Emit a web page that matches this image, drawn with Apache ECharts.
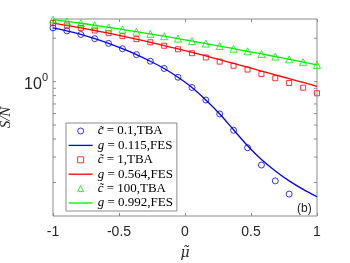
<!DOCTYPE html>
<html>
<head>
<meta charset="utf-8">
<script src="https://cdn.jsdelivr.net/npm/echarts@6/dist/echarts.min.js"></script>
<style>html,body{margin:0;padding:0;background:#fff}#c{width:350px;height:263px}</style>
</head>
<body>
<div id="c"></div>
<script>
// x grid (mu tilde)
const xs = [-1, -0.895, -0.789, -0.684, -0.579, -0.474, -0.368, -0.263, -0.158, -0.053,
            0.053, 0.158, 0.263, 0.368, 0.474, 0.579, 0.684, 0.789, 0.895, 1];
// c~ = 0.1, TBA (blue circles)
const blueTBA = [2.360, 2.249, 2.124, 1.986, 1.842, 1.692, 1.540, 1.386, 1.235, 1.073,
                 0.911, 0.746, 0.597, 0.460, 0.348, 0.264, 0.205, 0.166];
// g = 0.115, FES (blue line)
const blueFES = [2.360, 2.249, 2.124, 1.986, 1.842, 1.692, 1.540, 1.386, 1.235, 1.073,
                 0.911, 0.746, 0.597, 0.464, 0.359, 0.288, 0.240, 0.205, 0.179, 0.159];
// c~ = 1, TBA (red squares)
const redTBA = [2.545, 2.453, 2.360, 2.264, 2.168, 2.070, 1.973, 1.875, 1.776, 1.676,
                1.575, 1.472, 1.377, 1.289, 1.213, 1.131, 1.056, 0.979, 0.908, 0.831];
// g = 0.564, FES (red line)
const redFES = [2.545, 2.453, 2.360, 2.264, 2.168, 2.070, 1.973, 1.875, 1.776, 1.687,
                1.598, 1.508, 1.421, 1.338, 1.259, 1.185, 1.115, 1.049, 0.987, 0.929];
// c~ = 100, TBA (green triangles)
const greenTBA = [2.696, 2.618, 2.541, 2.460, 2.379, 2.301, 2.221, 2.145, 2.067, 1.989,
                  1.911, 1.836, 1.765, 1.692, 1.623, 1.557, 1.492, 1.428, 1.366, 1.306];
// g = 0.992, FES (green line)
const greenFES = greenTBA.slice();
// y-axis tick values (log scale)
const yTicks = [0.2, 0.3, 0.4, 0.5, 0.6, 0.7, 0.8, 0.9, 1, 2];

const labels = {
  c01: '{it|c\u0303} = 0.1,TBA',
  g0115: '{it|g} = 0.115,FES',
  c1: '{it|c\u0303} = 1,TBA',
  g0564: '{it|g} = 0.564,FES',
  c100: '{it|c\u0303} = 100,TBA',
  g0992: '{it|g} = 0.992,FES'
};
const BLUE = '#0000ff', RED = '#ff0000', GREEN = '#00f000';
const AX = '#8c8c8c';
const ICON_RECT = 'path://M0,0L10,0L10,10L0,10Z';
const ICON_TRI = 'path://M5,0L10,10L0,10Z';

function pairs(vals) { return vals.map((v, i) => [xs[i], v]); }
function scatter(name, vals, color, symbol, size) {
  return { name, type: 'scatter', data: pairs(vals), symbol, symbolSize: size,
    itemStyle: { color: 'rgba(0,0,0,0)', borderColor: color, borderWidth: 1 }, z: 4 };
}
function line(name, vals, color) {
  return { name, type: 'line', data: pairs(vals), symbol: 'none', showSymbol: false, smooth: 0.25,
    lineStyle: { color, width: 1.3 }, itemStyle: { color }, z: 3 };
}
function markerIcon(name, shape) { return { name, icon: shape }; }
function lineIcon(name) {
  return { name, lineStyle: { width: 1.3 },
    itemStyle: { color: 'rgba(0,0,0,0)', borderColor: 'rgba(0,0,0,0)', borderWidth: 0 } };
}

const chart = echarts.init(document.getElementById('c'), null, { renderer: 'canvas' });
chart.setOption({
  animation: false,
  backgroundColor: '#fff',
  grid: { left: 53, right: 33, top: 19, bottom: 47, show: true, borderColor: AX, borderWidth: 1,
    backgroundColor: 'transparent', containLabel: false, outerBoundsMode: 'none' },
  xAxis: [{
    type: 'value', min: -1, max: 1, interval: 0.5, position: 'bottom',
    axisLine: { show: false }, splitLine: { show: false },
    axisTick: { inside: true, length: 3, lineStyle: { color: AX } },
    axisLabel: { margin: 9, color: '#262626', fontFamily: 'Liberation Sans', fontSize: 14,
      formatter: v => String(v) },
    name: 'μ\u0303', nameLocation: 'middle', nameGap: 30,
    nameTextStyle: { fontFamily: 'DejaVu Serif', fontStyle: 'italic', fontSize: 14, color: '#262626' }
  }, {
    type: 'value', min: -1, max: 1, interval: 0.5, position: 'top',
    axisLine: { show: false }, splitLine: { show: false },
    axisTick: { inside: true, length: 3, lineStyle: { color: AX } },
    axisLabel: { show: false }
  }],
  yAxis: {
    type: 'log', logBase: 10, min: 0.117, max: 2.72,
    axisLine: { show: false }, splitLine: { show: false }, axisTick: { show: false },
    axisLabel: {
      margin: 5, color: '#262626', fontFamily: 'Liberation Sans', fontSize: 16,
      formatter: v => Math.abs(v - 1) < 1e-9 ? '{b|10}{s|0}' : '',
      rich: { b: { fontSize: 16, fontFamily: 'Liberation Sans', color: '#262626', padding: [6, 0, 0, 0] },
              s: { fontSize: 11, fontFamily: 'Liberation Sans', color: '#262626', padding: [0, 0, 7, 0] } }
    },
    name: 'S/N', nameLocation: 'middle', nameGap: 33,
    nameTextStyle: { fontFamily: 'Liberation Serif', fontStyle: 'italic', fontSize: 15, color: '#262626' }
  },
  legend: {
    orient: 'vertical', left: 66, top: 123, padding: [1, 4, 1, 2],
    itemWidth: 24, itemHeight: 6, itemGap: 0.4, symbolKeepAspect: true,
    borderColor: AX, borderWidth: 1, backgroundColor: '#fff',
    itemStyle: { borderWidth: 1 },
    textStyle: { fontFamily: 'Liberation Serif', fontSize: 13, color: '#000', lineHeight: 14,
      rich: { it: { fontFamily: 'Liberation Serif', fontStyle: 'italic', fontSize: 13, lineHeight: 14, color: '#000' } } },
    formatter: n => labels[n],
    data: [markerIcon('c01', 'circle'), lineIcon('g0115'), markerIcon('c1', ICON_RECT),
           lineIcon('g0564'), markerIcon('c100', ICON_TRI), lineIcon('g0992')]
  },
  graphic: [{
    type: 'text', left: 297, top: 203,
    style: { text: '(b)', fontFamily: 'Liberation Sans', fontSize: 12, fill: '#262626' }
  }],
  series: [
    line('g0115', blueFES, BLUE),
    line('g0564', redFES, RED),
    line('g0992', greenFES, GREEN),
    scatter('c01', blueTBA, BLUE, 'circle', 6),
    scatter('c1', redTBA, RED, 'rect', 5),
    scatter('c100', greenTBA, GREEN, 'triangle', 7),
    {
      type: 'custom', silent: true, z: 5,
      data: yTicks.map(v => [-1, v]),
      renderItem: (params, api) => {
        const v = api.value(1);
        const pL = api.coord([-1, v]);
        const pR = api.coord([1, v]);
        const st = { stroke: AX, lineWidth: 1 };
        return { type: 'group', children: [
          { type: 'line', shape: { x1: pL[0], y1: pL[1], x2: pL[0] + 3, y2: pL[1] }, style: st },
          { type: 'line', shape: { x1: pR[0], y1: pR[1], x2: pR[0] - 3, y2: pR[1] }, style: st }
        ] };
      }
    }
  ]
});
</script>
</body>
</html>
